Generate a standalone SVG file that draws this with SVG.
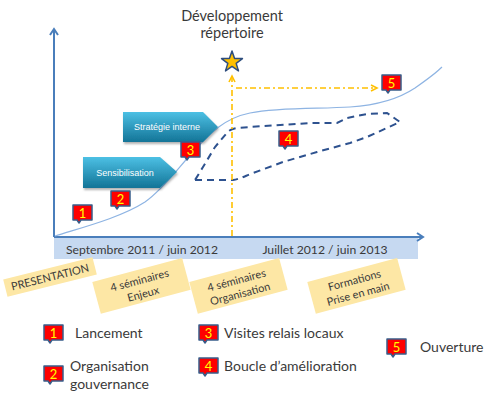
<svg xmlns="http://www.w3.org/2000/svg" width="500" height="401" viewBox="0 0 500 401">
<style>
.t{font-family:Lato,"Liberation Sans",sans-serif;fill:#3a3a3a}
.num{font-family:Lato,"Liberation Sans",sans-serif;font-size:13px;fill:#ffff00;text-anchor:middle}
.lbl{font-family:Lato,"Liberation Sans",sans-serif;font-size:11px;fill:#3a3a3a;text-anchor:middle}
.box{fill:#fde7a5}
.ax{stroke:#4a7ebb;stroke-width:2;fill:none}
.yl{stroke:#ffc000;stroke-width:1.6;fill:none;stroke-dasharray:6 3 2 3}
.arr{font-family:"Liberation Sans",Arial,sans-serif;font-size:9px;fill:#ffffff;text-anchor:middle}
.lg{font-size:14px}
</style>
<defs>
<path id="badge" d="M0,0 H19 V15 H8 L6,18 L4,15 H0 Z" fill="#ff0000" stroke="#385d8a" stroke-width="1.5" stroke-linejoin="round"/>
<linearGradient id="tg" x1="0" y1="0" x2="0" y2="1">
<stop offset="0" stop-color="#4cc0e4"/>
<stop offset="1" stop-color="#137497"/>
</linearGradient>
<filter id="sh" x="-10%" y="-10%" width="130%" height="140%">
<feDropShadow dx="1" dy="2" stdDeviation="1.2" flood-color="#000" flood-opacity="0.3"/>
</filter>
</defs>

<g id="title">
<text class="t" x="232" y="21" font-size="14.5" text-anchor="middle">Développement</text>
<text class="t" x="232" y="38" font-size="14.5" text-anchor="middle">répertoire</text>
</g>

<g id="timeline">
<rect x="54" y="238" width="364" height="21" fill="#c6d9f1"/>
<text class="t" x="142" y="253.5" font-size="12.2" text-anchor="middle">Septembre 2011 / juin 2012</text>
<text class="t" x="325" y="253.5" font-size="12.2" text-anchor="middle">Juillet 2012 / juin 2013</text>
</g>

<g id="connectors">
<path class="ax" d="M54,237 V29"/>
<path class="ax" d="M50,35 L54,29 L58,35"/>
<path class="ax" d="M54,237 H423"/>
<path class="ax" d="M417,233 L423,237 L417,241"/>
<path d="M55,236 C80,228 120,218 145,202 C165,188 180,165 195,150 C210,133 225,118 250,113 C280,107 320,109 350,107 C380,105 400,98 415,88 C425,81 435,74 442,67" fill="none" stroke="#8eb4e3" stroke-width="1.2"/>
<path d="M195,180 L233,180 C240,179 245,176 253,173 L283,162 L317,152 L350,143 L367,137 L400,122 L387,113 L367,114 L347,118 L337,123 L310,123 L250,127 L237,128 C231,129 228,131 226,134 L215,147 L203,167 Z" fill="none" stroke="#2e528f" stroke-width="2" stroke-dasharray="7 5"/>
<path class="yl" d="M232,236 V77"/>
<path d="M229,82 L232,76 L235,82" fill="none" stroke="#ffc000" stroke-width="1.6"/>
<path class="yl" d="M236,88 H376"/>
<path d="M371,85 L377,88 L371,91" fill="none" stroke="#ffc000" stroke-width="1.6"/>
</g>

<g id="star">
<polygon points="232,51 234.59,58.44 242.46,58.6 236.18,63.36 238.47,70.9 232,66.4 225.53,70.9 227.82,63.36 221.54,58.6 229.41,58.44" fill="#ffc000" stroke="#2e4e7e" stroke-width="1.5" stroke-linejoin="round"/>
</g>

<g id="strategie">
<polygon points="123,112 203,112 218,127 203,142 123,142" fill="url(#tg)" filter="url(#sh)"/>
<text class="arr" x="167" y="130">Stratégie interne</text>
</g>
<g id="sensibilisation">
<polygon points="83,157 160,157 177,172 160,188 83,188" fill="url(#tg)" filter="url(#sh)"/>
<text class="arr" x="125" y="176">Sensibilisation</text>
</g>

<g id="b1"><use href="#badge" x="73" y="205"/><text class="num" x="82.5" y="217.5">1</text></g>
<g id="b2"><use href="#badge" x="111" y="191"/><text class="num" x="120.5" y="203.5">2</text></g>
<g id="b3"><use href="#badge" x="181" y="142"/><text class="num" x="190.5" y="154.5">3</text></g>
<g id="b4"><use href="#badge" x="279" y="131"/><text class="num" x="288.5" y="143.5">4</text></g>
<g id="b5"><use href="#badge" x="382" y="75"/><text class="num" x="391.5" y="87.5">5</text></g>

<g id="presentation" transform="translate(50,277) rotate(-14)">
<rect class="box" x="-46" y="-9" width="92" height="18"/>
<text class="lbl" x="0" y="4">PRESENTATION</text>
</g>
<g id="enjeux" transform="translate(141,286) rotate(-15)">
<rect class="box" x="-46" y="-16.5" width="93" height="33"/>
<text class="lbl" x="0" y="-2">4 séminaires</text>
<text class="lbl" x="0" y="12">Enjeux</text>
</g>
<g id="organisation" transform="translate(238,286) rotate(-15)">
<rect class="box" x="-46" y="-16.5" width="93" height="33"/>
<text class="lbl" x="0" y="-2">4 séminaires</text>
<text class="lbl" x="0" y="12">Organisation</text>
</g>
<g id="formations" transform="translate(356,286) rotate(-15)">
<rect class="box" x="-46" y="-16.5" width="93" height="33"/>
<text class="lbl" x="0" y="-2">Formations</text>
<text class="lbl" x="0" y="12">Prise en main</text>
</g>

<g id="legend1"><use href="#badge" x="44" y="325"/><text class="num" x="53.5" y="337.5">1</text><text class="t lg" x="75" y="338">Lancement</text></g>
<g id="legend2"><use href="#badge" x="44" y="366"/><text class="num" x="53.5" y="378.5">2</text><text class="t lg" x="70" y="371">Organisation</text><text class="t lg" x="70" y="389">gouvernance</text></g>
<g id="legend3"><use href="#badge" x="199" y="325"/><text class="num" x="208.5" y="337.5">3</text><text class="t lg" x="224" y="338">Visites relais locaux</text></g>
<g id="legend4"><use href="#badge" x="199" y="358"/><text class="num" x="208.5" y="370.5">4</text><text class="t lg" x="224" y="371">Boucle d’amélioration</text></g>
<g id="legend5"><use href="#badge" x="387" y="339"/><text class="num" x="396.5" y="351.5">5</text><text class="t lg" x="420" y="352">Ouverture</text></g>
</svg>
